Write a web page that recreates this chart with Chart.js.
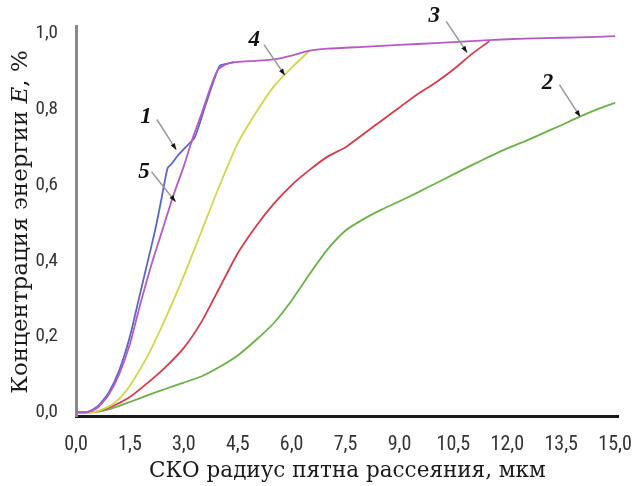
<!DOCTYPE html>
<html>
<head>
<meta charset="utf-8">
<script src="https://cdn.jsdelivr.net/npm/chart.js@4/dist/chart.umd.min.js"></script>
<style>
  html, body { margin: 0; padding: 0; background: #fff; }
  #wrap { width: 641px; height: 486px; position: relative; }
</style>
</head>
<body>
<div id="wrap"><canvas id="chart"></canvas></div>
<script>
// tick labels
const xTicks = [0, 1.5, 3, 4.5, 6, 7.5, 9, 10.5, 12, 13.5, 15];
const yTicks = [0, 0.2, 0.4, 0.6, 0.8, 1.0];

// curve 1 (blue)
const curve1X = [0, 0.3, 0.6, 0.9, 1.2, 1.5, 1.75, 2.0, 2.2, 2.35, 2.45, 2.55, 2.65, 2.85, 3.05, 3.3, 3.6, 3.85, 4.0, 4.2, 4.4];
const curve1Y = [0, 0, 0.015, 0.05, 0.11, 0.2, 0.3, 0.4, 0.48, 0.55, 0.6, 0.645, 0.655, 0.68, 0.7, 0.725, 0.81, 0.88, 0.915, 0.92, 0.925];

// curve 2 (green)
const curve2X = [0, 0.5, 1.0, 1.5, 2.0, 2.5, 3.0, 3.5, 4.0, 4.5, 5.0, 5.5, 6.0, 6.5, 7.0, 7.5, 8.0, 8.5, 9.0, 9.5, 10.0, 10.5, 11.0, 11.5, 12.0, 12.5, 13.0, 13.5, 14.0, 14.5, 15.0];
const curve2Y = [0, 0, 0.01, 0.027, 0.045, 0.062, 0.078, 0.095, 0.12, 0.15, 0.19, 0.235, 0.295, 0.365, 0.43, 0.48, 0.51, 0.535, 0.557, 0.58, 0.604, 0.628, 0.652, 0.675, 0.697, 0.716, 0.737, 0.758, 0.78, 0.8, 0.817];

// curve 3 (red)
const curve3X = [0, 0.5, 1.0, 1.5, 2.0, 2.5, 3.0, 3.5, 4.0, 4.5, 5.0, 5.5, 6.0, 6.5, 7.0, 7.5, 8.0, 8.5, 9.0, 9.5, 10.0, 10.5, 11.0, 11.5];
const curve3Y = [0, 0, 0.015, 0.04, 0.078, 0.12, 0.17, 0.24, 0.33, 0.42, 0.49, 0.55, 0.6, 0.64, 0.675, 0.7, 0.735, 0.77, 0.805, 0.84, 0.87, 0.905, 0.945, 0.98];

// curve 4 (yellow)
const curve4X = [0, 0.5, 0.8, 1.0, 1.25, 1.5, 2.0, 2.5, 3.0, 3.5, 4.0, 4.5, 5.0, 5.5, 6.0, 6.5];
const curve4Y = [0, 0, 0.01, 0.02, 0.04, 0.07, 0.15, 0.25, 0.36, 0.48, 0.6, 0.71, 0.79, 0.86, 0.91, 0.955];

// curve 5 (magenta)
const curve5X = [0, 0.3, 0.6, 0.9, 1.2, 1.5, 1.8, 2.1, 2.4, 2.7, 3.0, 3.25, 3.5, 3.75, 3.95, 4.2, 4.5, 5.0, 5.5, 6.0, 6.5, 7.0, 8.0, 9.0, 10.0, 11.0, 12.0, 13.0, 14.0, 15.0];
const curve5Y = [0, 0, 0.012, 0.045, 0.1, 0.18, 0.29, 0.39, 0.48, 0.57, 0.65, 0.725, 0.79, 0.86, 0.905, 0.92, 0.925, 0.928, 0.932, 0.942, 0.955, 0.96, 0.965, 0.97, 0.975, 0.98, 0.985, 0.988, 0.99, 0.993];

// curve number labels with leader arrows, in data units
const markLabels = ['1', '2', '3', '4', '5'];
const markTextX = [1.95, 13.12, 9.97, 4.96, 1.89];
const markTextY = [0.78, 0.87, 1.045, 0.984, 0.635];
const markFromX = [2.25, 13.45, 10.3, 5.23, 2.1];
const markFromY = [0.773, 0.865, 1.032, 0.971, 0.635];
const markToX = [2.79, 14.03, 10.88, 5.81, 2.77];
const markToY = [0.693, 0.78, 0.95, 0.89, 0.556];

const pts = (xs, ys) => xs.map((x, i) => ({ x: x, y: ys[i] }));
const comma = v => v.toFixed(1).replace('.', ',');
const tickFont = '"Liberation Sans Narrow", "Roboto Condensed", "Liberation Sans"';

const line = (label, xs, ys, color) => ({
  label: label,
  data: pts(xs, ys),
  borderColor: color,
  borderWidth: 1.8,
  pointRadius: 0,
  tension: 0.2,
  fill: false
});

// draws the curve numbers, arrows and the axis titles
const extras = {
  id: 'extras',
  afterDraw(chart) {
    const { ctx, scales: { x, y }, chartArea } = chart;
    ctx.save();

    markLabels.forEach((lab, i) => {
      const x1 = x.getPixelForValue(markFromX[i]), y1 = y.getPixelForValue(markFromY[i]);
      const x2 = x.getPixelForValue(markToX[i]), y2 = y.getPixelForValue(markToY[i]);
      ctx.strokeStyle = '#9a9a9a';
      ctx.lineWidth = 1.5;
      ctx.beginPath();
      ctx.moveTo(x1, y1);
      ctx.lineTo(x2, y2);
      ctx.stroke();
      // arrow head
      const a = Math.atan2(y2 - y1, x2 - x1);
      ctx.fillStyle = '#111';
      ctx.beginPath();
      ctx.moveTo(x2, y2);
      ctx.lineTo(x2 - 7 * Math.cos(a - 0.35), y2 - 7 * Math.sin(a - 0.35));
      ctx.lineTo(x2 - 7 * Math.cos(a + 0.35), y2 - 7 * Math.sin(a + 0.35));
      ctx.closePath();
      ctx.fill();

      ctx.fillStyle = '#111';
      ctx.font = 'italic bold 23px "Liberation Serif"';
      ctx.textAlign = 'center';
      ctx.textBaseline = 'middle';
      ctx.fillText(lab, x.getPixelForValue(markTextX[i]), y.getPixelForValue(markTextY[i]));
    });

    // x axis title
    ctx.fillStyle = '#1a1a1a';
    ctx.font = '21.5px "DejaVu Serif"';
    ctx.textAlign = 'center';
    ctx.textBaseline = 'alphabetic';
    ctx.fillText('СКО радиус пятна рассеяния, мкм', (chartArea.left + chartArea.right) / 2, 477);

    // y axis title, mixed italic
    const parts = [
      ['Концентрация энергии ', '23px "DejaVu Serif"'],
      ['E', 'italic 23px "DejaVu Serif"'],
      [', %', '23px "DejaVu Serif"']
    ];
    let total = 0;
    parts.forEach(p => { ctx.font = p[1]; total += ctx.measureText(p[0]).width; });
    ctx.translate(27, 222);
    ctx.rotate(-Math.PI / 2);
    ctx.textAlign = 'left';
    let pos = -total / 2;
    parts.forEach(p => {
      ctx.font = p[1];
      ctx.fillText(p[0], pos, 0);
      pos += ctx.measureText(p[0]).width;
    });
    ctx.restore();
  }
};

new Chart(document.getElementById('chart'), {
  type: 'line',
  data: {
    datasets: [
      line('5', curve5X, curve5Y, '#b45cc4'),
      line('1', curve1X, curve1Y, '#5b67c6'),
      line('4', curve4X, curve4Y, '#d2d64e'),
      line('3', curve3X, curve3Y, '#d43c4c'),
      line('2', curve2X, curve2Y, '#6cb04c')
    ]
  },
  options: {
    responsive: true,
    maintainAspectRatio: false,
    animation: false,
    layout: { padding: { left: 0, right: 14, top: 26, bottom: 0 } },
    plugins: { legend: { display: false }, tooltip: { enabled: false } },
    scales: {
      x: {
        type: 'linear',
        min: 0,
        max: 15.1,
        afterBuildTicks: s => { s.ticks = xTicks.map(v => ({ value: v })); },
        afterFit: s => { s.height = 70; },
        grid: { display: false },
        border: { display: true, color: '#1a1a1a', width: 3 },
        ticks: {
          color: '#333',
          font: { family: tickFont, size: 20 },
          padding: 9,
          maxRotation: 0,
          callback: v => comma(v)
        }
      },
      y: {
        min: -0.01,
        max: 1.02,
        afterBuildTicks: s => { s.ticks = yTicks.map(v => ({ value: v })); },
        afterFit: s => { s.width = 76; },
        grid: { display: false },
        border: { display: true, color: '#8a8a8a', width: 3 },
        ticks: {
          color: '#333',
          font: { family: tickFont, size: 19 },
          padding: 10,
          callback: v => comma(v)
        }
      }
    }
  },
  plugins: [extras]
});
</script>
</body>
</html>
